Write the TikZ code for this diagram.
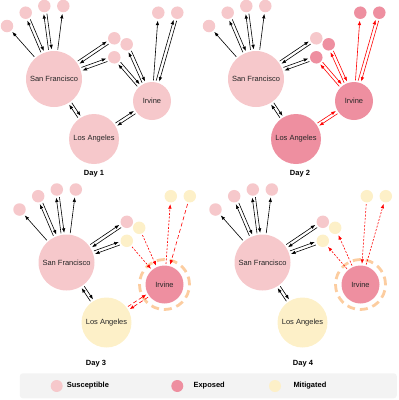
\documentclass[tikz,border=0pt]{standalone}
\usepackage{fontspec}
\setmainfont{Liberation Sans}
\usetikzlibrary{arrows.meta,calc}
\definecolor{sus}{RGB}{246,200,203}
\definecolor{expo}{RGB}{238,143,160}
\definecolor{miti}{RGB}{253,240,200}
\definecolor{ringc}{RGB}{252,205,160}
\definecolor{legbg}{RGB}{243,243,243}
\tikzset{
 city/.style={circle,inner sep=0pt,font=\fontsize{7.5}{9}\selectfont,text=black!85},
 dot/.style={circle,inner sep=0pt,minimum size=12.5pt},
 fsus/.style={fill=sus}, fexp/.style={fill=expo}, fmit/.style={fill=miti},
 arr/.style={-{Latex[length=4.5pt,width=3.5pt]},line width=0.6pt,shorten >=1.5pt,shorten <=1.5pt},
 blk/.style={arr,black},
 redl/.style={arr,red},
 dotl/.style={arr,red,dash pattern=on 2pt off 1.5pt},
 dashl/.style={arr,red,dash pattern=on 4pt off 2.5pt},
 off/.style 2 args={transform canvas={shift={($(#1)!1.6pt!90:(#2)-(#1)$)}}},
 ringst/.style={draw=ringc,line width=2.8pt,dash pattern=on 8pt off 5pt,circle,inner sep=0pt,minimum size=50pt},
 daylabel/.style={font=\bfseries\fontsize{7.5}{9}\selectfont,inner sep=0pt},
 legtext/.style={font=\bfseries\fontsize{7.5}{9}\selectfont,inner sep=0pt,anchor=west},
}
\newcommand\oneway[3][blk]{\draw[#1] (#2) -- (#3);}
\newcommand\twoway[3][blk]{\draw[#1,off={#2}{#3}] (#2) -- (#3); \draw[#1,off={#3}{#2}] (#3) -- (#2);}
\newcommand\graphnodes[4]{%
 \node[city,fsus,minimum size=56pt] (#1sf) at (54,79) {San Francisco};
 \node[city,#2,minimum size=50pt] (#1la) at (94,139) {Los Angeles};
 \node[city,#3,minimum size=38pt] (#1irv) at (152,101) {Irvine};
 \node[dot,fsus] (#1a) at (7,26) {};
 \node[dot,fsus] (#1b) at (25.7,12.7) {};
 \node[dot,fsus] (#1c) at (44.3,6) {};
 \node[dot,fsus] (#1d) at (63.3,6) {};
 \node[dot,fsus] (#1e) at (114.3,38.3) {};
 \node[dot,#4] (#1f) at (126.7,44.3) {};
 \node[dot,#4] (#1g) at (114.3,57.3) {};
 \node[dot,#4] (#1h) at (158.3,12.7) {};
 \node[dot,#4] (#1i) at (177.3,12.7) {};
}
\newcommand\sfedges[1]{%
 \oneway{#1sf}{#1a}
 \twoway{#1sf}{#1b}
 \twoway{#1sf}{#1c}
 \oneway{#1sf}{#1d}
 \twoway{#1sf}{#1e}
 \twoway{#1sf}{#1g}
 \twoway{#1sf}{#1la}
}
\begin{document}
\begin{tikzpicture}[x=1pt,y=-1pt]
\useasboundingbox (0,0) rectangle (399,400);
% Day 1
\begin{scope}
 \graphnodes{p1}{fsus}{fsus}{fsus}
 \sfedges{p1}
 \twoway{p1f}{p1irv}
 \twoway{p1g}{p1irv}
 \oneway{p1irv}{p1h}
 \twoway{p1irv}{p1i}
 \twoway{p1la}{p1irv}
\end{scope}
% Day 2
\begin{scope}[shift={(202,0)}]
 \graphnodes{p2}{fexp}{fexp}{fexp}
 \sfedges{p2}
 \twoway[redl]{p2f}{p2irv}
 \twoway[redl]{p2g}{p2irv}
 \oneway[redl]{p2irv}{p2h}
 \twoway[redl]{p2irv}{p2i}
 \twoway[redl]{p2la}{p2irv}
\end{scope}
% Day 3
\begin{scope}[shift={(12.5,183.5)}]
 \graphnodes{p3}{fmit}{fexp}{fmit}
 \node[ringst] (p3ring) at (p3irv) {};
 \sfedges{p3}
 \oneway[dotl]{p3f}{p3irv}
 \oneway[dotl]{p3g}{p3irv}
 \oneway[dotl]{p3irv}{p3h}
 \oneway[dashl]{p3i}{p3irv}
 \twoway[dashl]{p3la}{p3irv}
\end{scope}
% Day 4
\begin{scope}[shift={(208.5,183.5)}]
 \graphnodes{p4}{fmit}{fexp}{fmit}
 \node[ringst] (p4ring) at (p4irv) {};
 \sfedges{p4}
 \oneway[dotl]{p4irv}{p4f}
 \oneway[dotl]{p4irv}{p4g}
 \oneway[dotl]{p4h}{p4irv}
 \oneway[dotl]{p4irv}{p4i}
\end{scope}
\node[daylabel] (d1) at (94,174) {Day 1};
\node[daylabel] (d2) at (300,174) {Day 2};
\node[daylabel] (d3) at (96,364) {Day 3};
\node[daylabel] (d4) at (303,364) {Day 4};
% legend
\node[fill=legbg,rounded corners=3pt,minimum width=377pt,minimum height=25pt,inner sep=0pt] (legend) at (208.3,385.8) {};
\node[dot,fsus,minimum size=12pt] (ls) at (56.7,386) {};
\node[legtext] (lst) at (66.7,386) {Susceptible};
\node[dot,fexp,minimum size=12pt] (le) at (177.3,386) {};
\node[legtext] (let) at (193.3,386) {Exposed};
\node[dot,fmit,minimum size=12pt] (lm) at (275,386) {};
\node[legtext] (lmt) at (293.3,386) {Mitigated};
\end{tikzpicture}
\end{document}
